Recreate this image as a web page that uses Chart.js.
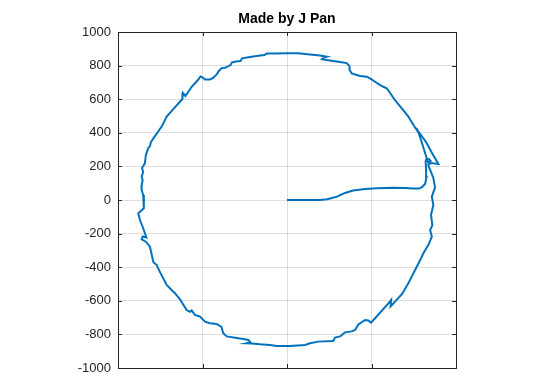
<!DOCTYPE html>
<html>
<head>
<meta charset="utf-8">
<script src="https://cdn.jsdelivr.net/npm/chart.js@4/dist/chart.umd.min.js"></script>
<style>
  html, body { margin: 0; padding: 0; background: #fff; }
  #wrap { width: 554px; height: 373px; overflow: hidden; position: relative; }
  #box { width: 554px; height: 420px; position: absolute; left: 0; top: 0; }
</style>
</head>
<body>
<div id="wrap"><div id="box"><canvas id="panChart"></canvas></div></div>
<script>
const xTicks = [-1000, -500, 0, 500, 1000];
const yTicks = [-1000, -800, -600, -400, -200, 0, 200, 400, 600, 800, 1000];

// traced path, in data units
const pathX = [0, 107, 195, 237, 266, 296, 343, 391, 462, 533, 628, 698, 746, 781, 799, 817, 826, 823, 820, 823, 841, 850, 835, 817, 793, 778,
  752, 716, 679, 639, 610, 590, 570, 551, 521, 491, 472, 432, 413, 383, 370, 370, 353, 314, 272, 235,
  207, 216, 235, 195, 136, 67, 0, -71, -120, -133, -160, -219, -266, -275, -302, -326, -334, -367, -387, -403,
  -416, -438, -456, -485, -503, -512, -527, -564, -601, -616, -619, -657, -712, -732, -740, -764, -791, -805, -811, -821,
  -835, -841, -858, -851, -860, -854, -861, -860, -851, -847, -847, -870, -880, -870, -851, -832, -854, -860, -835, -811,
  -791, -771, -752, -712, -683, -663, -633, -594, -574, -564, -545, -515, -485, -456, -416, -388, -377, -357, -259, -229,
  -216, -239, -207, -160, -101, -61, 18, 107, 136, 185, 274, 284, 314, 343, 383, 403, 422, 462, 481, 497,
  521, 600, 616, 613, 639, 681, 718, 738, 764, 797, 807, 836, 857, 847, 860, 852, 866, 857, 876, 866,
  847, 836, 852, 896, 858, 823, 784, 764];
const pathY = [0, 0, 0, 4, 12, 20, 42, 57, 65, 70, 73, 71, 68, 68, 77, 95, 137, 190, 226, 241, 244, 232, 223, 280, 357, 402,
  440, 500, 546, 595, 637, 665, 674, 684, 704, 724, 734, 738, 744, 754, 774, 797, 815, 821, 827, 833,
  839, 848, 853, 860, 866, 873, 873, 872, 872, 863, 860, 851, 843, 827, 824, 819, 803, 787, 785, 768,
  748, 726, 718, 718, 732, 735, 714, 674, 619, 637, 601, 559, 496, 456, 440, 405, 367, 345, 321, 309,
  268, 218, 190, 168, 139, 119, 83, 60, 30, 0, -49, -70, -79, -119, -168, -223, -217, -234, -248, -278,
  -369, -387, -428, -506, -536, -555, -592, -655, -665, -657, -684, -694, -724, -734, -738, -756, -793, -812, -827, -833,
  -848, -853, -854, -859, -863, -869, -869, -863, -853, -843, -839, -819, -812, -788, -782, -774, -741, -714, -717, -730,
  -704, -615, -595, -634, -605, -559, -496, -456, -405, -339, -317, -268, -218, -179, -149, -89, -30, 20, 74, 131,
  179, 208, 220, 214, 280, 345, 399, 428];

const axisColor = '#262626';
const fontFam = 'Liberation Sans, Arial, Helvetica, sans-serif';

// box on all four sides + inward tick marks, like the original figure
const boxTicks = {
  id: 'boxTicks',
  afterDraw(chart) {
    const { ctx, chartArea: a, scales } = chart;
    ctx.save();
    ctx.strokeStyle = axisColor;
    ctx.lineWidth = 1;
    ctx.beginPath();
    ctx.rect(Math.round(a.left) + 0.5, Math.round(a.top) + 0.5, Math.round(a.right - a.left), Math.round(a.bottom - a.top));
    const len = 4;
    xTicks.forEach(v => {
      const px = Math.round(scales.x.getPixelForValue(v)) + 0.5;
      ctx.moveTo(px, a.bottom); ctx.lineTo(px, a.bottom - len);
      ctx.moveTo(px, a.top); ctx.lineTo(px, a.top + len);
    });
    yTicks.forEach(v => {
      const py = Math.round(scales.y.getPixelForValue(v)) + 0.5;
      ctx.moveTo(a.left, py); ctx.lineTo(a.left + len, py);
      ctx.moveTo(a.right, py); ctx.lineTo(a.right - len, py);
    });
    ctx.stroke();
    ctx.restore();
  }
};

function createPanChart() {
  const ctx = document.getElementById('panChart');
  new Chart(ctx, {
    type: 'scatter',
    data: {
      datasets: [{
        data: pathX.map((x, i) => ({ x: x, y: pathY[i] })),
        showLine: true,
        borderColor: '#0072BD',
        borderWidth: 2,
        pointRadius: 0,
        tension: 0,
        fill: false
      }]
    },
    options: {
      responsive: true,
      maintainAspectRatio: false,
      animation: false,
      layout: { padding: { left: 0, right: 98, top: 0, bottom: 0 } },
      plugins: {
        legend: { display: false },
        tooltip: { enabled: false },
        title: {
          display: true,
          text: 'Made by J Pan',
          fullSize: false,
          color: '#000',
          font: { family: fontFam, size: 14, weight: 'bold', lineHeight: 1.2 },
          padding: { top: 11, bottom: 4.2 }
        }
      },
      scales: {
        x: {
          type: 'linear',
          min: -1000,
          max: 1000,
          afterBuildTicks: s => { s.ticks = xTicks.map(v => ({ value: v })); },
          afterFit: s => { s.height = 52; },
          grid: { color: 'rgba(38,38,38,0.15)', drawTicks: false },
          border: { color: axisColor },
          ticks: {
            color: axisColor,
            padding: 8,
            callback: v => String(v),
            font: { family: fontFam, size: 13 }
          }
        },
        y: {
          type: 'linear',
          min: -1000,
          max: 1000,
          afterBuildTicks: s => { s.ticks = yTicks.map(v => ({ value: v })); },
          afterFit: s => { s.width = 118; },
          grid: { color: 'rgba(38,38,38,0.15)', drawTicks: false },
          border: { color: axisColor },
          ticks: {
            color: axisColor,
            padding: 7,
            callback: v => String(v),
            font: { family: fontFam, size: 13 }
          }
        }
      }
    },
    plugins: [boxTicks]
  });
}

document.addEventListener('DOMContentLoaded', () => {
  createPanChart();
});
</script>
</body>
</html>
